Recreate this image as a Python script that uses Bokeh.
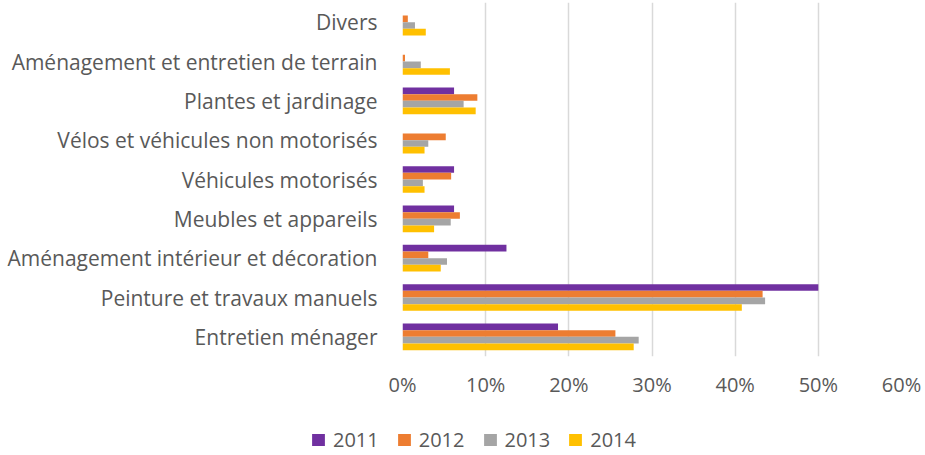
from bokeh.plotting import figure
from bokeh.models import Range1d, FixedTicker, NumeralTickFormatter, Legend, LegendItem, ColumnDataSource
from bokeh.embed import file_html
from bokeh.resources import INLINE

categories = [
    "Divers",
    "Aménagement et entretien de terrain",
    "Plantes et jardinage",
    "Vélos et véhicules non motorisés",
    "Véhicules motorisés",
    "Meubles et appareils",
    "Aménagement intérieur et décoration",
    "Peinture et travaux manuels",
    "Entretien ménager",
]
years = ["2011", "2012", "2013", "2014"]
v2011 = [0.0, 0.0, 6.2, 0.0, 6.2, 6.2, 12.5, 50.0, 18.7]
v2012 = [0.64, 0.3, 9.0, 5.2, 5.85, 6.9, 3.1, 43.3, 25.6]
v2013 = [1.5, 2.2, 7.35, 3.1, 2.45, 5.8, 5.35, 43.6, 28.4]
v2014 = [2.8, 5.7, 8.8, 2.65, 2.65, 3.8, 4.6, 40.8, 27.8]
colors = ["#7030A0", "#ED7D31", "#A5A5A5", "#FFC000"]
x_ticks = [0, 0.1, 0.2, 0.3, 0.4, 0.5, 0.6]

FONT = "Open Sans"
TXT = "#595959"

series = [v2011, v2012, v2013, v2014]
n = len(categories)
ypos = [n - 1 - i + 0.5 for i in range(n)]
bar_h = 0.17
offsets = [1.5 * bar_h, 0.5 * bar_h, -0.5 * bar_h, -1.5 * bar_h]

p = figure(width=925, height=410, output_backend="svg", toolbar_location=None,
           x_range=Range1d(0, 0.6), y_range=Range1d(0, n),
           min_border_left=402, min_border_right=24, min_border_top=2, min_border_bottom=54)
p.outline_line_color = None
p.background_fill_color = "white"
p.border_fill_color = "white"

sources = []
for vals, col, off in zip(series, colors, offsets):
    src = ColumnDataSource(dict(y=[y + off for y in ypos], right=[v / 100 for v in vals]))
    sources.append(src)
    p.hbar(y="y", left=0, right="right", height=bar_h, source=src,
           fill_color=col, line_color=None)

p.xaxis.ticker = FixedTicker(ticks=x_ticks)
p.xaxis.formatter = NumeralTickFormatter(format="0%")
p.xaxis.axis_line_color = None
p.xaxis.major_tick_line_color = None
p.xaxis.minor_tick_line_color = None
p.xaxis.major_label_text_font = FONT
p.xaxis.major_label_text_font_size = "20px"
p.xaxis.major_label_text_color = TXT
p.xaxis.major_label_standoff = 8

p.yaxis.ticker = FixedTicker(ticks=ypos)
p.yaxis.major_label_overrides = {y: c for y, c in zip(ypos, categories)}
p.yaxis.axis_line_color = None
p.yaxis.major_tick_line_color = None
p.yaxis.minor_tick_line_color = None
p.yaxis.major_label_text_font = FONT
p.yaxis.major_label_text_font_size = "21px"
p.yaxis.major_label_text_color = TXT
p.yaxis.major_label_standoff = 19

p.xgrid.ticker = FixedTicker(ticks=x_ticks)
p.xgrid.grid_line_color = "#D9D9D9"
p.xgrid.grid_line_width = 1.5
p.ygrid.grid_line_color = None
p.xgrid.level = "underlay"

# legend strip below the chart (separate root, so no frame alignment)
p2 = figure(width=925, height=45, output_backend="svg", toolbar_location=None,
            x_range=Range1d(0, 1), y_range=Range1d(100, 101),
            x_axis_location=None, y_axis_location=None,
            min_border_left=0, min_border_right=0, min_border_top=0, min_border_bottom=0)
p2.outline_line_color = None
p2.xgrid.grid_line_color = None
p2.ygrid.grid_line_color = None
leg_renderers = []
for src, col in zip(sources, colors):
    r = p2.hbar(y="y", left=0, right="right", height=bar_h, source=src,
                fill_color=col, line_color=None)
    leg_renderers.append(r)

legend = Legend(items=[LegendItem(label=y, renderers=[r]) for y, r in zip(years, leg_renderers)],
                orientation="horizontal", location=(310, 2))
legend.border_line_color = None
legend.background_fill_alpha = 0
legend.padding = 0
legend.margin = 0
legend.spacing = 17
legend.glyph_width = 16
legend.glyph_height = 15
legend.label_standoff = 7
legend.label_text_font = FONT
legend.label_text_font_size = "20px"
legend.label_text_color = TXT
p2.add_layout(legend, "center")

open("out.html", "w").write(file_html([p, p2], INLINE))
